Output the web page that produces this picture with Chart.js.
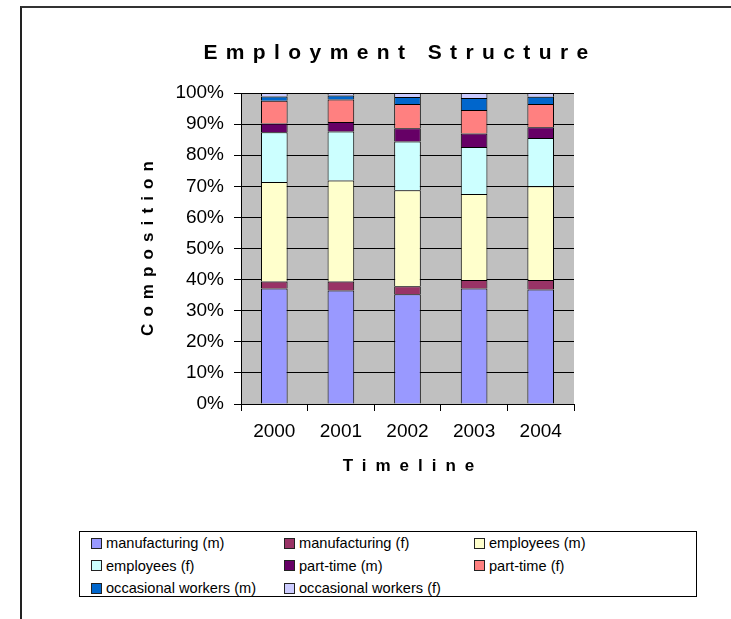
<!DOCTYPE html>
<html lang="en">
<head>
<meta charset="UTF-8">
<title>Employment Structure</title>
<script src="https://cdn.jsdelivr.net/npm/chart.js"></script>
<style>
  body { margin: 0; overflow: hidden; background: #fff; font-family: "Liberation Sans", Arial, sans-serif; }
  #wrap { position: relative; width: 731px; height: 619px; }
  #frame { position: absolute; left: 20px; top: 6px; width: 800px; height: 700px; border-left: 2px solid #222; border-top: 2px solid #333; }
  .lbl { position: absolute; white-space: nowrap; font-weight: bold; color: #000; }
  #title { left: 400px; top: 52px; font-size: 21px; letter-spacing: 8.4px; transform: translate(-50%, -50%); }
  #xTitle { left: 413px; top: 466px; font-size: 17px; letter-spacing: 9px; transform: translate(-50%, -50%); }
  #yTitle { left: 148px; top: 245px; font-size: 17px; letter-spacing: 7.1px; transform: translate(-50%, -50%) rotate(-90deg); }
  #legend { position: absolute; left: 79px; top: 531px; width: 605px; height: 64px; border: 1px solid #000; background: #fff;
            display: grid; grid-template-columns: 193px 190px auto; grid-auto-rows: 22.5px; padding-left: 11px; box-sizing: content-box; }
  #legend div { display: flex; align-items: center; font-size: 14.6px; color: #000; white-space: nowrap; }
  #legend span.box { width: 9px; height: 9px; border: 1px solid #222; margin-right: 4px; flex: none; }
</style>
</head>
<body>
<div id="wrap">
  <div id="frame"></div>
  <canvas id="chart" width="731" height="619"></canvas>
  <div class="lbl" id="title">Employment Structure</div>
  <div class="lbl" id="xTitle">Timeline</div>
  <div class="lbl" id="yTitle">Composition</div>
  <div id="legend"></div>
</div>
<script>
// categories
var years = ['2000', '2001', '2002', '2003', '2004'];

// share of each group, %
var mfgM = [37.1, 36.5, 35.3, 37.1, 36.8];
var mfgF = [2.3, 2.9, 2.6, 2.8, 3.1];
var empM = [32.0, 32.5, 30.8, 27.6, 30.1];
var empF = [16.0, 15.7, 15.7, 15.1, 15.5];
var ptM = [2.8, 3.1, 4.3, 4.4, 3.5];
var ptF = [7.3, 7.2, 7.8, 7.5, 7.5];
var occM = [1.4, 1.3, 2.2, 3.9, 2.3];
var occF = [1.1, 0.8, 1.3, 1.6, 1.2];

var seriesNames = ['manufacturing (m)', 'manufacturing (f)', 'employees (m)', 'employees (f)',
                   'part-time (m)', 'part-time (f)', 'occasional workers (m)', 'occasional workers (f)'];
var seriesData = [mfgM, mfgF, empM, empF, ptM, ptF, occM, occF];
var colors = ['#9999FF', '#993366', '#FFFFCC', '#CCFFFF', '#660066', '#FF8080', '#0066CC', '#CCCCFF'];

var datasets = seriesNames.map(function(name, i) {
    return {
        label: name,
        data: seriesData[i],
        backgroundColor: colors[i],
        borderColor: '#000',
        borderWidth: 1,
        barPercentage: 0.4,
        categoryPercentage: 1.0
    };
});

// grey plot background
var plotBg = {
    id: 'plotBg',
    beforeDraw: function(chart) {
        var a = chart.chartArea, ctx = chart.ctx;
        ctx.save();
        ctx.fillStyle = '#C0C0C0';
        ctx.fillRect(a.left, a.top, a.right - a.left, a.bottom - a.top);
        ctx.restore();
    }
};

var tickFont = { family: '"Liberation Sans", Arial, sans-serif', size: 19 };

var chart = new Chart(document.getElementById('chart').getContext('2d'), {
    type: 'bar',
    data: { labels: years, datasets: datasets },
    options: {
        responsive: false,
        animation: false,
        layout: { padding: { left: 100, right: 157, top: 93, bottom: 165 } },
        plugins: {
            legend: { display: false },
            title: { display: false },
            tooltip: { enabled: false }
        },
        scales: {
            x: {
                stacked: true,
                grid: { drawOnChartArea: false, drawTicks: true, tickLength: 7, color: '#000', offset: true },
                border: { display: true, color: '#000', width: 1 },
                ticks: { color: '#000', font: tickFont, padding: 9, maxRotation: 0 },
                afterFit: function(scale) { scale.height = 50; }
            },
            y: {
                stacked: true,
                min: 0,
                max: 100,
                grid: { color: '#000', lineWidth: 1, tickLength: 7 },
                border: { display: true, color: '#000', width: 1 },
                ticks: {
                    stepSize: 10,
                    color: '#000',
                    font: tickFont,
                    padding: 10,
                    callback: function(v) { return v + '%'; }
                },
                afterFit: function(scale) { scale.width = 141; }
            }
        }
    },
    plugins: [plotBg]
});

// legend in three columns, like the original
var legendHtml = '';
chart.data.datasets.forEach(function(ds) {
    legendHtml += '<div><span class="box" style="background:' + ds.backgroundColor + '"></span>' + ds.label + '</div>';
});
document.getElementById('legend').innerHTML = legendHtml;
</script>
</body>
</html>
